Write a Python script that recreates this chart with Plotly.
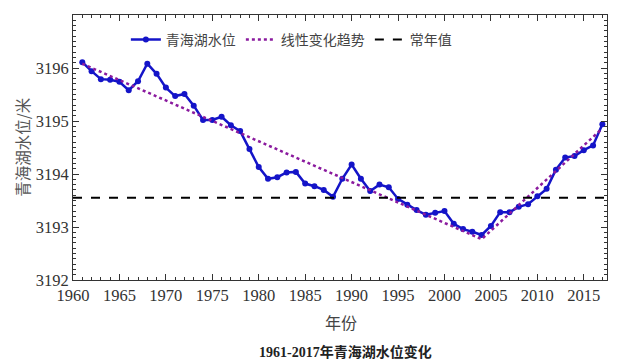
import plotly.graph_objects as go

years = list(range(1961, 2018))
level = [3196.11, 3195.94, 3195.79, 3195.78, 3195.74, 3195.58, 3195.75, 3196.08, 3195.89, 3195.63,
         3195.47, 3195.51, 3195.29, 3195.02, 3195.02, 3195.08, 3194.92, 3194.81, 3194.47, 3194.13,
         3193.91, 3193.94, 3194.03, 3194.04, 3193.82, 3193.77, 3193.70, 3193.57, 3193.91, 3194.18,
         3193.91, 3193.68, 3193.80, 3193.75, 3193.53, 3193.42, 3193.32, 3193.23, 3193.27, 3193.30,
         3193.06, 3192.96, 3192.91, 3192.85, 3193.02, 3193.28, 3193.28, 3193.38, 3193.43, 3193.58,
         3193.72, 3194.08, 3194.31, 3194.34, 3194.45, 3194.54, 3194.94]
trend_years = [1961, 2004, 2017]
trend_values = [3196.08, 3192.77, 3194.86]
normal_years = [1960, 2017.5]
normal_values = [3193.55, 3193.55]
x_ticks = list(range(1960, 2016, 5))
y_ticks = [3192, 3193, 3194, 3195, 3196, 3197]

serif = "Liberation Serif"
cjk = "Noto Sans CJK SC"

fig = go.Figure()
fig.add_trace(go.Scatter(x=years, y=level, mode="lines+markers", name="青海湖水位",
                         line=dict(color="#1414C8", width=2.5),
                         marker=dict(symbol="circle", size=6, color="#1414C8")))
fig.add_trace(go.Scatter(x=trend_years, y=trend_values, mode="lines", name="线性变化趋势",
                         line=dict(color="#8A1A9E", width=2.5, dash="dot")))
fig.add_trace(go.Scatter(x=normal_years, y=normal_values, mode="lines", name="常年值",
                         line=dict(color="black", width=2, dash="dash")))

axis_common = dict(showline=True, linecolor="#333", linewidth=1, mirror="allticks",
                   ticks="inside", ticklen=6, tickcolor="#333", showgrid=False, zeroline=False,
                   tickfont=dict(family=serif, size=16.5, color="#333"))

fig.update_xaxes(range=[1960, 2017.5], tickvals=x_ticks,
                 minor=dict(dtick=1, tick0=1960, ticks="inside", ticklen=3, tickcolor="#333"),
                 **axis_common)
fig.update_yaxes(range=[3192, 3197], tickvals=y_ticks,
                 minor=dict(dtick=0.1, tick0=3192, ticks="inside", ticklen=3, tickcolor="#333"),
                 **axis_common)

fig.update_layout(
    width=617, height=356,
    margin=dict(l=65, r=18, t=7, b=84),
    paper_bgcolor="white", plot_bgcolor="white",
    legend=dict(orientation="h", x=0.099, y=0.906, xanchor="left", yanchor="middle",
                font=dict(family=cjk, size=14, color="#444"), bgcolor="rgba(0,0,0,0)",
                itemwidth=30),
    annotations=[
        dict(text="青海湖水位/米", xref="paper", yref="paper", x=-0.097, y=0.5,
             textangle=-90, xanchor="center", yanchor="middle", showarrow=False,
             font=dict(family=cjk, size=15.5, color="#555")),
        dict(text="年份", xref="paper", yref="paper", x=0.502, y=-0.158,
             xanchor="center", yanchor="middle", showarrow=False,
             font=dict(family=cjk, size=16, color="#444")),
        dict(text="<b>1961-2017年青海湖水位变化</b>", xref="paper", yref="paper",
             x=0.51, y=-0.272, xanchor="center", yanchor="middle", showarrow=False,
             font=dict(family=serif + ", " + cjk, size=14, color="#222")),
    ],
)

fig.write_html("out.html")
